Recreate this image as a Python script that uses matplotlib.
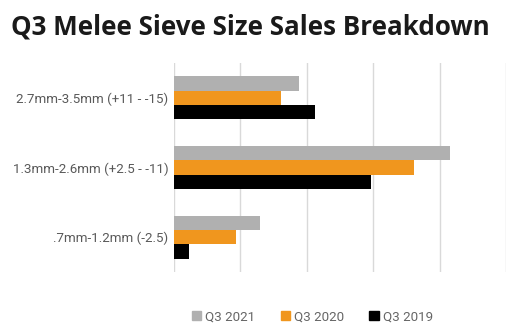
import numpy as np
import matplotlib.pyplot as plt
from matplotlib.patches import Patch

# categories, top to bottom
categories = ["2.7mm-3.5mm (+11 - -15)", "1.3mm-2.6mm (+2.5 - -11)", ".7mm-1.2mm (-2.5)"]
series_names = ["Q3 2021", "Q3 2020", "Q3 2019"]
q3_2021 = [18.9, 41.5, 12.9]
q3_2020 = [16.1, 36.1, 9.3]
q3_2019 = [21.2, 29.6, 2.3]
colors = ["#b0b0b0", "#f0961e", "#000000"]

plt.rcParams["font.family"] = ["Roboto", "DejaVu Sans"]

fig = plt.figure(figsize=(5.23, 3.33), dpi=100)
ax = fig.add_axes([0.3327, 0.183, 0.6348, 0.628])

y = np.arange(len(categories))
h = 0.204
for i, (vals, col) in enumerate(zip([q3_2021, q3_2020, q3_2019], colors)):
    ax.barh(y + (i - 1) * h, vals, height=h, color=col, label=series_names[i], zorder=3)

ax.set_ylim(len(categories) - 0.5, -0.5)
ax.set_xlim(0, 50)
ax.set_xticks(np.arange(0, 51, 10))
ax.set_xticklabels([])
ax.tick_params(axis="x", length=0)
ax.tick_params(axis="y", length=0, pad=4, labelsize=9.6, labelcolor="#595959")
ax.set_yticks(y)
ax.set_yticklabels(categories)
ax.grid(axis="x", color="#d9d9d9", linewidth=1, zorder=0)
for s in ax.spines.values():
    s.set_visible(False)

fig.text(0.021, 0.918, "Q3 Melee Sieve Size Sales Breakdown", fontsize=18.7,
         fontweight="bold", family="Open Sans", color="#1a1a1a", va="center")

handles = [Patch(color=c) for c in colors]
fig.legend(handles, series_names, loc="center", bbox_to_anchor=(0.597, 0.049), ncol=3,
           frameon=False, fontsize=9.6, labelcolor="#666666", handlelength=0.7,
           handleheight=0.7, handletextpad=0.3, columnspacing=1.9)

fig.savefig("out.png", dpi=100)
